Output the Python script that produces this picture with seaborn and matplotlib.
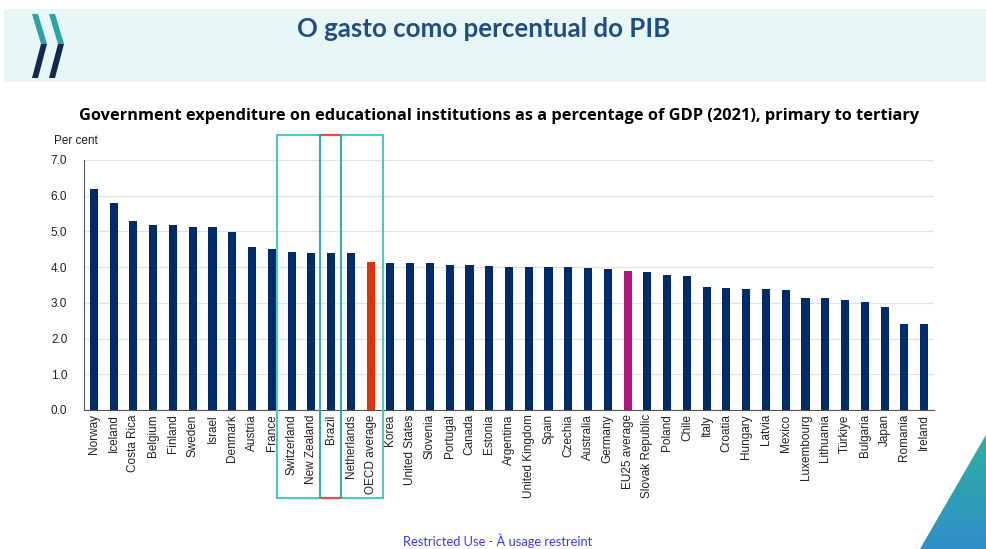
import numpy as np
import pandas as pd
import matplotlib
matplotlib.use("Agg")
import matplotlib.pyplot as plt
from matplotlib.patches import Polygon, Rectangle
import matplotlib.transforms as mtransforms
import seaborn as sns

countries = [
    "Norway", "Iceland", "Costa Rica", "Belgium", "Finland", "Sweden", "Israel",
    "Denmark", "Austria", "France", "Switzerland", "New Zealand", "Brazil",
    "Netherlands", "OECD average", "Korea", "United States", "Slovenia",
    "Portugal", "Canada", "Estonia", "Argentina", "United Kingdom", "Spain",
    "Czechia", "Australia", "Germany", "EU25 average", "Slovak Republic",
    "Poland", "Chile", "Italy", "Croatia", "Hungary", "Latvia", "Mexico",
    "Luxembourg", "Lithuania", "Türkiye", "Bulgaria", "Japan", "Romania",
    "Ireland",
]
spend_pct_gdp = [
    6.20, 5.79, 5.30, 5.18, 5.17, 5.13, 5.11,
    4.99, 4.57, 4.51, 4.42, 4.40, 4.40,
    4.39, 4.14, 4.12, 4.11, 4.11,
    4.05, 4.05, 4.04, 4.01, 4.01, 4.00,
    4.00, 3.99, 3.96, 3.89, 3.87,
    3.77, 3.74, 3.45, 3.43, 3.40, 3.40, 3.35,
    3.15, 3.13, 3.09, 3.02, 2.88, 2.42,
    2.40,
]
y_ticks = [0.0, 1.0, 2.0, 3.0, 4.0, 5.0, 6.0, 7.0]

NAVY = "#002c6a"
OECD_RED = "#e2320c"
EU_MAGENTA = "#b2157c"

groups = []
for c in countries:
    if c == "OECD average":
        groups.append("oecd")
    elif c == "EU25 average":
        groups.append("eu")
    else:
        groups.append("country")
df = pd.DataFrame({"country": countries, "value": spend_pct_gdp, "group": groups})
palette = {"country": NAVY, "oecd": OECD_RED, "eu": EU_MAGENTA}

sns.set_theme(style="white")
plt.rcParams["font.family"] = ["Liberation Sans", "DejaVu Sans"]

W, H = 987, 549
fig = plt.figure(figsize=(W / 100, H / 100), dpi=100)
fig.patch.set_facecolor("white")


def fx(px):
    return px / W


def fy(py):
    return 1 - py / H


# slide header band
fig.patches.append(Rectangle((fx(4), fy(82)), 1, 73 / H, transform=fig.transFigure,
                             facecolor="#e9f6f8", edgecolor="none", zorder=0))
fig.text(fx(484), fy(29), "O gasto como percentual do PIB", ha="center", va="center",
         fontsize=18.6, fontweight="bold", color="#1f4d87", family=["Lato", "DejaVu Sans"])


# chevron logo
def chevron(x0):
    top = [(x0, 14), (x0 + 6, 14), (x0 + 15, 44), (x0 + 9, 44)]
    bot = [(x0 + 9, 44), (x0 + 15, 44), (x0 + 6, 78), (x0, 78)]
    for pts, col in ((top, "#2aa3a4"), (bot, "#15284d")):
        fig.patches.append(Polygon([(fx(px), fy(py)) for px, py in pts], closed=True,
                                   transform=fig.transFigure, facecolor=col,
                                   edgecolor="none", zorder=1))


chevron(32)
chevron(49)

# chart title
fig.text(fx(499), fy(116),
         "Government expenditure on educational institutions as a percentage of GDP (2021), primary to tertiary",
         ha="center", va="center", fontsize=11.8, fontweight="bold", color="black",
         family=["Open Sans", "DejaVu Sans"])

ax = fig.add_axes([fx(84), fy(410), (934 - 84) / W, 250 / H])
sns.barplot(data=df, x="country", y="value", hue="group", palette=palette,
            dodge=False, width=0.41, legend=False, ax=ax, saturation=1,
            edgecolor="none", linewidth=0)
ax.set_xlim(-0.5, len(countries) - 0.5)
ax.set_ylim(0, 7)
ax.set_yticks(y_ticks)
ax.set_yticklabels([f"{v:.1f}" for v in y_ticks], fontsize=8.5, color="#222222")
ax.set_xticks(range(len(countries)))
ax.set_xticklabels(countries, rotation=90, fontsize=8.5, color="#222222")
ax.set_xlabel("")
ax.set_ylabel("")
ax.yaxis.grid(True, color="#e3e3e3", linewidth=0.9)
ax.set_axisbelow(True)
for s in ("top", "right"):
    ax.spines[s].set_visible(False)
for s in ("left", "bottom"):
    ax.spines[s].set_color("#555555")
    ax.spines[s].set_linewidth(0.8)
ax.tick_params(axis="x", which="major", length=0, pad=3)
ax.tick_params(axis="y", which="major", length=0, pad=12)
ax.set_xticks(np.arange(-0.5, len(countries), 1.0), minor=True)
ax.tick_params(axis="x", which="minor", length=4, direction="in", color="#555555", width=0.8)
ax.text(-0.035, 1.075, "Per cent", transform=ax.transAxes, fontsize=8.5,
        color="#222222", ha="left", va="center")

# highlight boxes around Brazil and its neighbours
trans = mtransforms.blended_transform_factory(ax.transData, ax.transAxes)
y_lo, y_hi = -0.352, 1.1
brazil = countries.index("Brazil")
left_edge = brazil - 2.74
right_edge = brazil + 2.62
red_l, red_r = brazil - 0.56, brazil + 0.5
ax.add_patch(Rectangle((left_edge, y_lo), right_edge - left_edge, y_hi - y_lo, transform=trans,
                       fill=False, edgecolor="#4ec9c2", linewidth=1.5, clip_on=False, zorder=6))
for yv in (y_lo, y_hi):
    ax.plot([red_l, red_r], [yv, yv], transform=trans, color="#e0504a", linewidth=1.6,
            clip_on=False, zorder=7, solid_capstyle="butt")
for xv in (red_l, red_r):
    ax.plot([xv, xv], [y_lo, y_hi], transform=trans, color="#3aaaa4", linewidth=1.5,
            clip_on=False, zorder=8)

# footer
fig.text(fx(498), fy(541), "Restricted Use - À usage restreint", ha="center", va="center",
         fontsize=9.3, color="#3a3af0", family=["Lato", "DejaVu Sans"])

# corner triangle with gradient
grad = np.linspace(0, 1, 256).reshape(-1, 1)
cmap = matplotlib.colors.LinearSegmentedColormap.from_list("corner", ["#2fb0a0", "#2f8fc9"])
img_ax = fig.add_axes([fx(920), 0, 67 / W, 116 / H])
img_ax.axis("off")
img = img_ax.imshow(grad, aspect="auto", cmap=cmap, extent=[0, 1, 0, 1], origin="upper")
tri = Polygon([(0, 0), (1, 0), (1, 1)], closed=True, transform=img_ax.transData)
img.set_clip_path(tri)
img_ax.set_xlim(0, 1)
img_ax.set_ylim(0, 1)

fig.savefig("out.png", dpi=100)
